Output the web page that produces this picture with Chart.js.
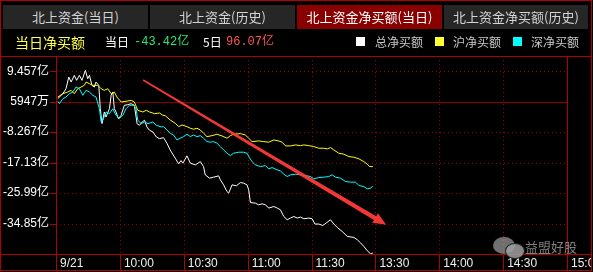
<!DOCTYPE html>
<html><head><meta charset="utf-8">
<script src="https://cdn.jsdelivr.net/npm/chart.js@4/dist/chart.umd.min.js"></script>
<style>
html,body{margin:0;padding:0;background:#000;}
#wrap{position:relative;width:593px;height:272px;overflow:hidden;background:#000;font-family:'Noto Sans CJK SC','Liberation Sans',sans-serif;}
#c{position:absolute;left:0;top:0;z-index:0;}
.tab{position:absolute;top:5px;height:24px;line-height:24px;text-align:center;font-size:13px;color:#d4d4d4;background:#262626;z-index:1;}
.tab.on{background:#880000;color:#fff;}
.hd{position:absolute;top:33px;height:18px;line-height:18px;white-space:nowrap;z-index:1;}
.num{font-family:'Liberation Mono','Noto Sans CJK SC',monospace;font-size:12px;}
.sq{position:absolute;top:37px;width:9px;height:9px;z-index:1;}
.lg{position:absolute;top:33px;height:18px;line-height:18px;font-size:12px;color:#c8c8c8;z-index:1;}
.bub{position:absolute;border-radius:50%;z-index:1;}
</style></head>
<body>
<div id="wrap">
<canvas id="c" width="593" height="272"></canvas>
<div class="tab" style="left:3px;width:145px">北上资金(当日)</div>
<div class="tab" style="left:150px;width:145px">北上资金(历史)</div>
<div class="tab on" style="left:297px;width:145px">北上资金净买额(当日)</div>
<div class="tab" style="left:444px;width:144px">北上资金净买额(历史)</div>
<div class="hd" style="left:15px;font-size:14px;color:#ffff44">当日净买额</div>
<div class="hd" style="left:105px;font-size:12px;color:#fff">当日</div>
<div class="hd num" style="left:134px;color:#2ee86a">-43.42亿</div>
<div class="hd" style="left:203px;font-size:12px;color:#fff">5日</div>
<div class="hd num" style="left:226px;color:#ff5555">96.07亿</div>
<div class="sq" style="left:356px;background:#fff"></div>
<div class="lg" style="left:375px">总净买额</div>
<div class="sq" style="left:435px;background:#ffff33"></div>
<div class="lg" style="left:453px">沪净买额</div>
<div class="sq" style="left:513px;background:#00ffff"></div>
<div class="lg" style="left:531px">深净买额</div>
<div class="bub" style="left:493px;top:237px;width:22px;height:17px;background:rgba(150,150,150,0.75)"></div>
<div class="bub" style="left:505px;top:243px;width:18px;height:14px;background:rgba(160,160,160,0.85);border:1px solid #222"></div>
<div style="position:absolute;left:525px;top:238px;font-size:13px;line-height:18px;color:rgba(150,150,150,0.85);z-index:1">益盟好股</div>
</div>
<script>
// ---- data ----
const tickMinutes = [0,30,60,90,120,150,180,210,240];
const timeLabels = ['9/21','10:00','10:30','11:00','11:30','13:30','14:00','14:30','15:00'];
const yTickValues = [9.457,0.5947,-8.267,-17.13,-25.99,-34.85];
const yTickLabels = ['9.457亿','5947万','-8.267亿','-17.13亿','-25.99亿','-34.85亿'];
const yMin = -43.71, yMax = 13.888;

const totalMin = [0.8,3.2,4.7,6.0,7.1,8.6,9.7,11.0,12.2,13.8,14.9,15.7,16.9,18.0,18.8,20.1,20.8,21.6,22.7,23.5,25.1,25.9,26.7,27.4,28.2,29.3,30.6,32.1,33.7,35.3,36.8,38.1,39.2,40.5,41.6,42.7,43.9,45.5,47.1,48.6,50.5,52.1,53.6,56.0,57.6,58.7,59.6,61.5,63.1,65.4,66.2,67.8,69.3,70.1,72.1,74.0,76.4,77.2,78.7,80.3,81.1,82.7,84.7,86.6,88.1,89.7,90.5,91.3,93.6,95.2,96.8,98.4,99.9,102.3,103.9,105.4,107.0,108.6,110.1,111.7,113.3,114.8,116.4,118.7,120.3,121.6,123.4,125.3,126.9,128.9,130.5,132.1,134.4,136.8,139.9,141.5,143.1,144.6,146.2,147.8,148.8];
const totalVal = [1.46,2.92,4.37,7.77,6.31,8.26,6.81,8.26,6.81,9.71,7.27,8.26,5.36,4.86,6.31,5.36,-1.44,-5.79,-2.40,-3.85,-1.44,2.45,3.41,-1.44,-2.40,-4.34,-3.36,-0.45,-0.28,0.01,-0.45,-5.79,-6.26,-5.30,-4.81,-6.75,-7.71,-8.20,-9.65,-10.15,-9.86,-11.48,-13.43,-15.84,-17.49,-16.54,-17.29,-15.17,-17.29,-17.78,-17.49,-16.83,-18.28,-20.69,-21.65,-21.36,-20.98,-22.14,-23.59,-25.54,-26.00,-23.59,-23.88,-22.92,-23.10,-23.59,-25.04,-28.73,-28.91,-29.40,-29.11,-29.40,-30.36,-29.89,-30.36,-30.85,-32.80,-33.75,-33.26,-32.80,-33.26,-32.97,-33.46,-33.26,-33.46,-35.00,-35.00,-35.41,-34.71,-33.75,-35.00,-36.00,-37.15,-38.60,-38.89,-39.56,-40.52,-41.51,-42.76,-43.70,-43.42];

const shMin = [0.8,3.2,5.5,7.1,8.6,10.2,11.8,13.3,14.1,15.7,17.3,19.6,21.2,22.7,24.3,25.9,27.4,28.6,30.6,32.9,35.3,36.8,38.4,40.8,42.4,43.9,46.3,48.6,50.2,51.3,53.6,56.0,57.6,59.2,61.5,63.1,64.6,66.2,67.8,69.3,70.9,73.3,75.6,78.0,80.3,81.9,83.4,86.6,88.9,90.5,92.1,95.2,97.6,99.9,102.3,104.6,106.2,107.8,110.1,112.5,114.8,116.4,118.7,121.1,123.4,125.8,127.4,128.9,130.5,132.8,135.2,137.6,139.9,142.3,144.6,146.2,147.3,148.8];
const shVal = [1.96,2.92,3.41,3.90,2.92,4.37,4.86,5.36,6.31,5.82,5.36,5.36,4.37,3.90,4.37,2.92,3.41,1.96,0.51,0.71,1.00,0.51,-1.90,-2.40,-1.90,-2.40,-2.89,-2.69,-3.36,-3.47,-4.72,-5.68,-6.66,-6.17,-6.66,-7.13,-7.42,-7.13,-7.62,-8.58,-9.57,-9.28,-8.87,-9.37,-10.03,-9.28,-8.87,-8.70,-9.08,-10.03,-11.02,-10.82,-11.02,-11.19,-10.53,-10.82,-11.19,-12.27,-12.27,-11.98,-12.18,-11.98,-12.18,-12.47,-12.94,-12.94,-13.14,-12.76,-13.43,-14.39,-14.68,-15.38,-15.55,-16.04,-16.83,-17.58,-18.28,-18.28];

const szMin = [0.8,1.6,3.2,4.7,6.3,7.9,9.4,11.0,12.6,14.1,15.7,17.3,18.8,20.4,21.2,22.0,23.5,25.1,26.7,27.4,28.2,29.8,31.4,32.9,34.5,36.4,37.6,38.4,40.0,41.6,43.2,45.5,47.1,49.4,50.5,52.1,53.6,55.2,56.8,58.4,59.9,61.5,63.1,64.6,66.2,67.8,69.3,70.9,72.5,74.0,75.6,77.2,78.7,80.3,81.9,83.4,85.8,88.1,89.7,91.0,92.1,93.6,96.0,98.4,99.9,101.5,103.9,105.4,107.0,108.6,110.1,112.5,114.8,117.2,119.5,121.1,123.4,125.8,128.1,129.7,131.3,133.6,136.0,138.4,140.7,142.3,144.6,146.2,147.8,148.8];
const szVal = [0.71,0.01,1.46,1.96,2.92,3.41,4.86,4.37,2.45,3.90,3.41,2.45,1.96,-1.44,-5.30,-4.81,-2.40,-2.89,-1.44,-2.40,-3.36,-4.34,-3.36,-1.44,-0.45,-0.45,-1.44,-4.81,-5.79,-5.30,-5.79,-5.30,-6.26,-6.75,-6.66,-7.62,-8.58,-9.08,-10.53,-10.03,-9.57,-8.87,-9.57,-9.08,-9.57,-9.28,-10.03,-11.02,-11.19,-11.02,-11.49,-12.47,-13.43,-14.39,-15.09,-14.39,-14.10,-14.10,-14.39,-15.84,-16.83,-17.78,-18.28,-17.99,-18.95,-18.57,-19.24,-19.53,-20.49,-21.18,-20.69,-20.49,-20.69,-20.89,-21.18,-21.85,-21.47,-21.36,-21.18,-20.69,-21.36,-21.65,-22.63,-22.81,-22.81,-23.80,-24.09,-24.75,-24.55,-23.88];

// arrow annotation, in data coordinates (minute, 亿)
const arrowFrom = {m:40.9, v:6.89};
const arrowTo = {m:155.1, v:-35.2};

const pts = (xs, ys) => xs.map((m, i) => ({x: m, y: ys[i]}));

const FRAME = '#b00000', DOT = '#9a0000', REF = '#8a0000';

const framePlugin = {
  id: 'frame',
  beforeDatasetsDraw(chart) {
    const {ctx, chartArea: a, scales: {x, y}} = chart;
    const ln = (x1, y1, x2, y2) => { ctx.beginPath(); ctx.moveTo(x1, y1); ctx.lineTo(x2, y2); ctx.stroke(); };
    ctx.save();
    ctx.lineWidth = 1;
    ctx.strokeStyle = DOT;
    ctx.setLineDash([1, 3]);
    yTickValues.forEach((v, i) => {
      if (i === 1) return;
      const py = Math.round(y.getPixelForValue(v)) + 0.5;
      ln(a.left, py, a.right, py);
    });
    tickMinutes.forEach((m, i) => {
      if (i === 0 || i === tickMinutes.length - 1) return;
      const px = Math.round(x.getPixelForValue(m)) + 0.5;
      ln(px, a.top, px, a.bottom);
    });
    ctx.setLineDash([]);
    // reference (previous) line
    ctx.strokeStyle = REF;
    const pr = Math.round(y.getPixelForValue(yTickValues[1])) + 0.5;
    ln(a.left - 6, pr, a.right, pr);
    // y tick marks
    ctx.strokeStyle = FRAME;
    yTickValues.forEach((v) => {
      const py = Math.round(y.getPixelForValue(v)) + 0.5;
      ln(a.left - 6, py, a.left, py);
    });
    // vertical separators in the time label row
    tickMinutes.forEach((m) => {
      const px = Math.round(x.getPixelForValue(m)) + 0.5;
      ln(px, a.bottom, px, 270);
    });
    ctx.restore();
  },
  afterDatasetsDraw(chart) {
    const {ctx, scales: {x, y}} = chart;
    const x1 = x.getPixelForValue(arrowFrom.m), y1 = y.getPixelForValue(arrowFrom.v);
    const x2 = x.getPixelForValue(arrowTo.m), y2 = y.getPixelForValue(arrowTo.v);
    const dx = x2 - x1, dy = y2 - y1, L = Math.hypot(dx, dy);
    const ux = dx / L, uy = dy / L, nx = -uy, ny = ux;
    const headL = 13, headW = 5.5, w0 = 0.8, w1 = 2.2;
    const bx = x2 - ux * headL, by = y2 - uy * headL;
    ctx.save();
    ctx.fillStyle = 'rgba(255,58,58,0.95)';
    ctx.beginPath();
    ctx.moveTo(x1 + nx * w0, y1 + ny * w0);
    ctx.lineTo(bx + nx * w1, by + ny * w1);
    ctx.lineTo(bx + nx * headW, by + ny * headW);
    ctx.lineTo(x2, y2);
    ctx.lineTo(bx - nx * headW, by - ny * headW);
    ctx.lineTo(bx - nx * w1, by - ny * w1);
    ctx.lineTo(x1 - nx * w0, y1 - ny * w0);
    ctx.closePath();
    ctx.fill();
    ctx.restore();
  },
  afterDraw(chart) {
    const {ctx, chartArea: a} = chart;
    const ln = (x1, y1, x2, y2) => { ctx.beginPath(); ctx.moveTo(x1, y1); ctx.lineTo(x2, y2); ctx.stroke(); };
    ctx.save();
    ctx.fillStyle = '#000';
    ctx.fillRect(592, 0, 10, 272);
    ctx.fillRect(0, 271, 593, 2);
    ctx.strokeStyle = FRAME;
    ctx.lineWidth = 1;
    ctx.strokeRect(0.5, 0.5, 591, 270);
    ln(0, a.top + 0.5, 592, a.top + 0.5);
    ln(0, Math.round(a.bottom) + 0.5, 592, Math.round(a.bottom) + 0.5);
    ln(Math.round(a.left) + 0.5, a.top, Math.round(a.left) + 0.5, 270);
    ln(Math.round(a.right) + 0.5, a.top, Math.round(a.right) + 0.5, 270);
    ctx.restore();
  }
};

new Chart(document.getElementById('c'), {
  type: 'line',
  data: {
    datasets: [
      {label: '深净买额', data: pts(szMin, szVal), borderColor: '#00ffff'},
      {label: '沪净买额', data: pts(shMin, shVal), borderColor: '#ffff00'},
      {label: '总净买额', data: pts(totalMin, totalVal), borderColor: '#ffffff'}
    ]
  },
  options: {
    responsive: false,
    animation: false,
    devicePixelRatio: 1,
    layout: {padding: {left: 0, top: 56, right: 26, bottom: 0}},
    elements: {point: {radius: 0}, line: {borderWidth: 1, tension: 0}},
    plugins: {legend: {display: false}, tooltip: {enabled: false}},
    scales: {
      x: {
        type: 'linear', min: 0, max: 240,
        afterBuildTicks: s => { s.ticks = tickMinutes.map(v => ({value: v})); },
        afterFit: s => { s.height = 18; s.paddingLeft = 0; s.paddingRight = 0; },
        grid: {display: false, drawTicks: false},
        border: {display: false},
        ticks: {
          autoSkip: false, maxRotation: 0, minRotation: 0, align: 'start', labelOffset: 4, padding: 2,
          color: '#f0f0f0', font: {family: "'Liberation Sans', Arial, sans-serif", size: 12},
          callback: (v, i) => timeLabels[i]
        }
      },
      y: {
        min: yMin, max: yMax,
        afterBuildTicks: s => { s.ticks = yTickValues.map(v => ({value: v})); },
        afterFit: s => { s.width = 56; s.paddingTop = 0; s.paddingBottom = 0; },
        grid: {display: false, drawTicks: false},
        border: {display: false},
        ticks: {
          padding: 7, color: '#ffffff',
          font: {family: "'Liberation Sans', 'Noto Sans CJK SC', sans-serif", size: 12},
          callback: (v, i) => yTickLabels[i]
        }
      }
    }
  },
  plugins: [framePlugin]
});
</script>
</body></html>
